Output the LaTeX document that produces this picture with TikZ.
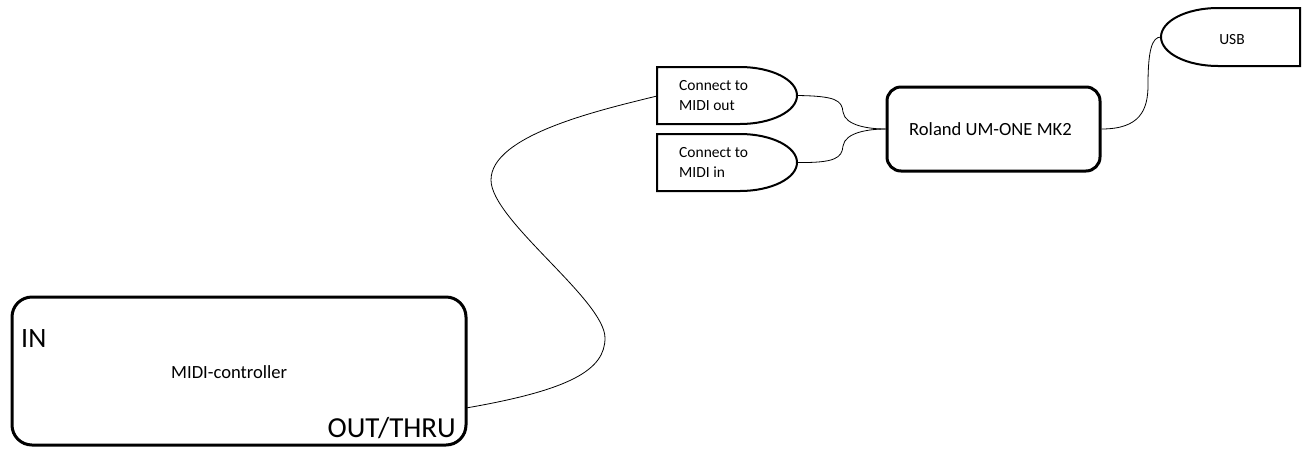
\documentclass[tikz,border=0pt]{standalone}
\usepackage{fontspec}
\setmainfont{Carlito}
\begin{document}
\begin{tikzpicture}[x=1pt,y=-1pt,
  thickbox/.style={draw=black,line width=3pt,rounded corners=#1,inner sep=0pt},
  termshape/.style={draw=black,line width=2pt,line join=miter},
  wire/.style={draw=black,line width=0.8pt},
  lbl/.style={inner sep=0pt,anchor=base west},
  small/.style={font=\fontsize{15.5}{19}\selectfont},
  mid/.style={font=\fontsize{18.6}{22}\selectfont},
  big/.style={font=\fontsize{28}{32}\selectfont}]
\useasboundingbox (0,0) rectangle (1307,448);
% MIDI controller
\node[thickbox=20pt,minimum width=454pt,minimum height=148pt] (ctrl) at (239,371) {};
\node[lbl,big] (in) at (21,347) {IN};
\node[lbl,mid] (mc) at (171,378) {MIDI-controller};
\node[lbl,big,anchor=base east,font=\fontsize{29}{32}\selectfont] (out) at (456,437) {OUT/THRU};
\coordinate (outp) at (466,408);
% Connect to MIDI out
\draw[termshape] (657,67) -- (740,67) .. controls (771.5,67) and (797,79.8) .. (797,95.5)
  .. controls (797,111.2) and (771.5,124) .. (740,124) -- (657,124) -- cycle;
\coordinate (c1w) at (657,96);
\coordinate (c1e) at (797,95.5);
\node[lbl,small] (c1a) at (679,90) {Connect to};
\node[lbl,small] (c1b) at (679,110) {MIDI out};
% Connect to MIDI in
\draw[termshape] (657,134) -- (740,134) .. controls (771.5,134) and (797,146.8) .. (797,162.5)
  .. controls (797,178.2) and (771.5,191) .. (740,191) -- (657,191) -- cycle;
\coordinate (c2e) at (797,162.5);
\node[lbl,small] (c2a) at (679,157) {Connect to};
\node[lbl,small] (c2b) at (679,177) {MIDI in};
% Roland
\node[thickbox=14pt,minimum width=213pt,minimum height=84pt] (um) at (993.5,129) {};
\node[mid,inner sep=0pt] (umt) at (990.5,129) {Roland UM-ONE MK2};
% USB
\draw[termshape] (1300,8) -- (1218,8) .. controls (1186.5,8) and (1161,21) .. (1161,37)
  .. controls (1161,53) and (1186.5,66) .. (1218,66) -- (1300,66) -- cycle;
\coordinate (usbw) at (1161,37);
\node[small,inner sep=0pt] (usb) at (1232,40) {USB};
% wires
\draw[wire] (outp) .. controls (570,390) and (605,370) .. (605,338)
  .. controls (605,300) and (491,220) .. (491,180)
  .. controls (491,135) and (600,110) .. (c1w);
\draw[wire] (c1e) .. controls (835,96) and (842,100) .. (843,112)
  .. controls (845,126) and (870,129) .. (um.west);
\draw[wire] (c2e) .. controls (835,163) and (842,158) .. (843,146)
  .. controls (845,132) and (870,129) .. (um.west);
\draw[wire] (um.east) .. controls (1140,129) and (1148,110) .. (1148,85)
  .. controls (1148,50) and (1152,37) .. (usbw);
\end{tikzpicture}
\end{document}
